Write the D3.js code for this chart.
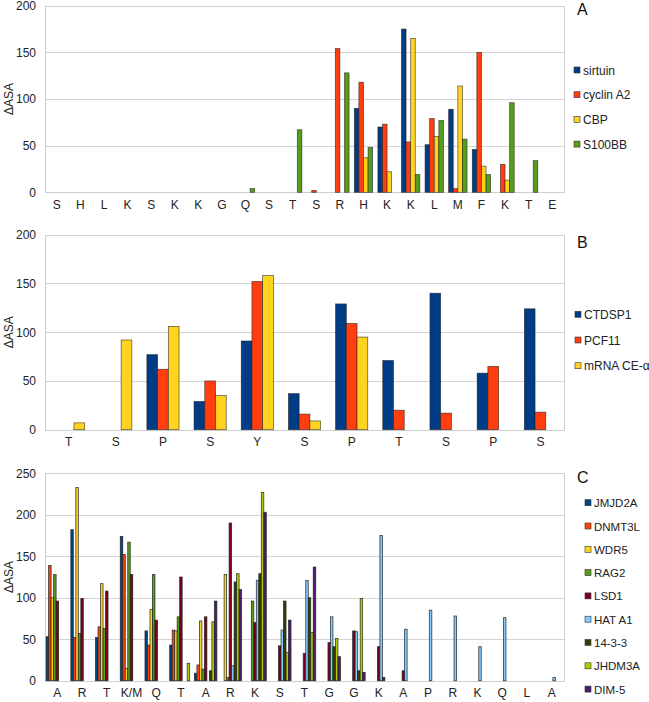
<!DOCTYPE html>
<html><head><meta charset="utf-8">
<script src="https://cdn.jsdelivr.net/npm/d3@7"></script>
<style>body{margin:0;background:#fff}svg{display:block}</style>
</head><body>
<svg id="c" width="649" height="702"></svg>
<script>
// ---------- Panel A ----------
const catsA = ["S","H","L","K","S","K","K","G","Q","S","T","S","R","H","K","K","L","M","F","K","T","E"];
const namesA = ["sirtuin","cyclin A2","CBP","S100BB"];
const sirtuin  = [0,0,0,0,0,0,0,0,0,0,0,0,0,90,70,175,51,89,46,0,0,0];
const cyclinA2 = [0,0,0,0,0,0,0,0,0,0,0,2,154,118,73,54,79,4,150,30,0,0];
const cbp      = [0,0,0,0,0,0,0,0,0,0,0,0,0,37,22,165,60,114,28,13,0,0];
const s100bb   = [0,0,0,0,0,0,0,0,4,0,67,0,128,48,0,19,77,57,19,96,34,0];
const ticksA = [0,50,100,150,200];

// ---------- Panel B ----------
const catsB = ["T","S","P","S","Y","S","P","T","S","P","S"];
const namesB = ["CTDSP1","PCF11","mRNA CE-α"];
const ctdsp1 = [0,0,77,29,91,37,129,71,140,58,124];
const pcf11  = [0,0,62,50,152,16,109,20,17,65,18];
const mrnaCE = [7,92,106,35,158,9,95,0,0,0,0];
const ticksB = [0,50,100,150,200];

// ---------- Panel C ----------
const catsC = ["A","R","T","K/M","Q","T","A","R","K","S","T","G","G","K","A","P","R","K","Q","L","A"];
const namesC = ["JMJD2A","DNMT3L","WDR5","RAG2","LSD1","HAT A1","14-3-3","JHDM3A","DIM-5"];
const jmjd2a = [53,182,52,174,60,43,9,0,0,0,0,0,0,0,0,0,0,0,0,0,0];
const dnmt3l = [139,52,65,152,43,61,19,0,0,0,0,0,0,0,0,0,0,0,0,0,0];
const wdr5   = [100,233,117,15,86,60,72,128,0,0,0,0,0,0,0,0,0,0,0,0,0];
const rag2   = [128,57,63,167,128,77,14,4,96,0,0,0,0,0,0,0,0,0,0,0,0];
const lsd1   = [96,99,108,128,73,125,77,190,70,42,33,46,60,41,12,0,0,0,0,0,0];
const hatA1  = [0,0,0,0,0,0,0,18,121,61,121,77,59,175,62,85,78,41,76,0,4];
const p1433  = [0,0,0,0,0,0,12,119,129,96,100,41,12,4,0,0,0,0,0,0,0];
const jhdm3a = [0,0,0,0,0,21,71,129,227,34,58,51,99,0,0,0,0,0,0,0,0];
const dim5   = [0,0,0,0,0,0,96,110,203,73,137,29,10,0,0,0,0,0,0,0,0];
const ticksC = [0,50,100,150,200,250];

const FONT = "'Liberation Sans', Arial, sans-serif";
const svg = d3.select("#c");

function panel(o){
  const g = svg.append("g");
  const x = d3.scaleBand().domain(d3.range(o.cats.length)).range([45,564]).padding(0);
  const xs = d3.scaleBand().domain(d3.range(o.names.length)).range([0,x.bandwidth()]).paddingInner(0).paddingOuter(o.pad);
  const y = d3.scaleLinear().domain([0,o.max]).range([o.bottom,o.top]);
  g.selectAll("line.grid").data(o.ticks).join("line")
    .attr("x1",45).attr("x2",564).attr("y1",d=>Math.round(y(d))+0.5).attr("y2",d=>Math.round(y(d))+0.5)
    .attr("stroke","#d4d4d4").attr("stroke-width",1);
  g.append("rect").attr("x",45.5).attr("y",Math.round(o.top)+0.5).attr("width",519).attr("height",Math.round(o.bottom)-Math.round(o.top))
    .attr("fill","none").attr("stroke","#cfcfcf");
  const ya = d3.axisLeft(y).tickValues(o.ticks).tickSize(0).tickPadding(9);
  const ag = g.append("g").attr("transform","translate(45,0)").call(ya);
  ag.select(".domain").remove();
  ag.selectAll("text").attr("font-family",FONT).attr("font-size",12).attr("fill","#222");
  const xa = d3.axisBottom(x).tickFormat(i=>o.cats[i]).tickSize(0).tickPadding(8);
  const xg = g.append("g").attr("transform",`translate(0,${o.bottom})`).call(xa);
  xg.select(".domain").remove();
  xg.selectAll("text").attr("font-family",FONT).attr("font-size",12).attr("fill","#222");
  g.append("text").attr("transform",`translate(13,${(o.top+o.bottom)/2}) rotate(-90)`)
    .attr("text-anchor","middle").attr("font-family",FONT).attr("font-size",12).attr("fill","#222").text("ΔASA");
  o.series.forEach((vals,si)=>{
    g.append("g").selectAll("rect").data(vals.map((v,i)=>({v,i})).filter(d=>d.v>0)).join("rect")
      .attr("x",d=>x(d.i)+xs(si)).attr("width",xs.bandwidth())
      .attr("y",d=>y(d.v)).attr("height",d=>y(0)-y(d.v))
      .attr("fill",o.colors[si]).attr("stroke","#1e1e1e").attr("stroke-width",o.sw).attr("stroke-opacity",o.so);
  });
  g.append("text").attr("x",577).attr("y",o.letterY).attr("font-family",FONT).attr("font-size",16).attr("fill","#111").text(o.letter);
  const lg = g.append("g");
  o.names.forEach((n,i)=>{
    const cy = o.legY + i*o.legStep;
    lg.append("rect").attr("x",o.legX).attr("y",cy-3).attr("width",6).attr("height",6)
      .attr("fill",o.colors[i]).attr("stroke","#333").attr("stroke-width",0.6);
    lg.append("text").attr("x",o.legX+9).attr("y",cy+4.5).attr("font-family",FONT).attr("font-size",o.legFont).attr("fill","#222").text(n);
  });
}

panel({cats:catsA,names:namesA,series:[sirtuin,cyclinA2,cbp,s100bb],
  colors:["#003b85","#ff3d0e","#ffd320","#579d1c"],max:200,ticks:ticksA,top:5.7,bottom:192.3,pad:0.57,sw:0.7,so:0.75,
  letter:"A",letterY:15,legX:574,legY:70,legStep:24.7,legFont:12});
panel({cats:catsB,names:namesB,series:[ctdsp1,pcf11,mrnaCE],
  colors:["#003b85","#ff3d0e","#ffd320"],max:200,ticks:ticksB,top:234.7,bottom:429.7,pad:0.7,sw:0.7,so:0.75,
  letter:"B",letterY:248,legX:575,legY:314.3,legStep:25.7,legFont:12});
panel({cats:catsC,names:namesC,series:[jmjd2a,dnmt3l,wdr5,rag2,lsd1,hatA1,p1433,jhdm3a,dim5],
  colors:["#004586","#ff420e","#ffd320","#579d1c","#7e0021","#83caff","#314004","#aecf00","#4b1f6f"],
  max:250,ticks:ticksC,top:473.3,bottom:680.7,pad:0.45,sw:0.8,so:0.85,
  letter:"C",letterY:483,legX:585,legY:502.7,legStep:23.3,legFont:11.5});
</script>
</body></html>
